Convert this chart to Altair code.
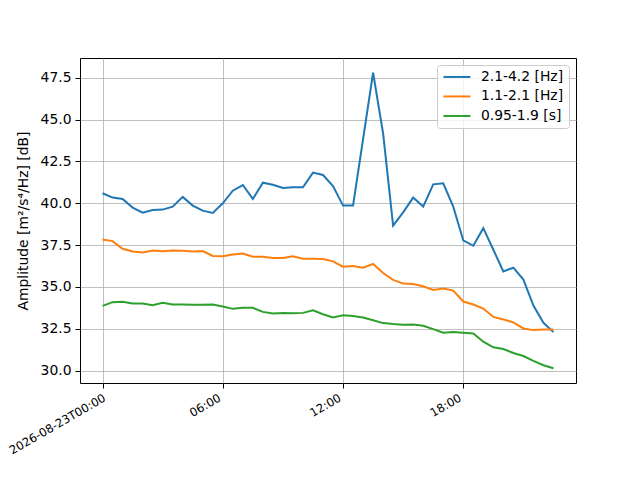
import altair as alt
import pandas as pd

times = pd.date_range("2026-08-23T00:00:00Z", periods=46, freq="30min")

band_hi = [40.6, 40.34, 40.26, 39.74, 39.44, 39.6, 39.62, 39.8, 40.38, 39.86,
           39.56, 39.42, 40.0, 40.75, 41.09, 40.26, 41.23, 41.11, 40.91, 40.95,
           40.95, 41.83, 41.69, 41.03, 39.86, 39.86, 43.83, 47.8, 44.17, 38.67,
           39.46, 40.34, 39.8, 41.13, 41.19, 39.8, 37.78, 37.46, 38.51, 37.22,
           35.93, 36.15, 35.44, 33.89, 32.86, 32.3]
band_mid = [37.84, 37.74, 37.28, 37.12, 37.06, 37.18, 37.14, 37.18, 37.16, 37.12,
            37.14, 36.85, 36.83, 36.94, 37.0, 36.81, 36.81, 36.73, 36.73, 36.83,
            36.69, 36.69, 36.67, 36.53, 36.21, 36.25, 36.15, 36.37, 35.83, 35.42,
            35.2, 35.18, 35.04, 34.82, 34.9, 34.78, 34.13, 33.95, 33.71, 33.21,
            33.06, 32.88, 32.52, 32.42, 32.46, 32.46]
band_lo = [33.87, 34.09, 34.11, 34.01, 34.01, 33.91, 34.05, 33.95, 33.95, 33.93,
           33.93, 33.95, 33.83, 33.69, 33.75, 33.75, 33.51, 33.41, 33.45, 33.43,
           33.45, 33.61, 33.37, 33.17, 33.31, 33.27, 33.17, 33.01, 32.84, 32.78,
           32.74, 32.76, 32.68, 32.48, 32.26, 32.3, 32.26, 32.22, 31.73, 31.39,
           31.29, 31.05, 30.87, 30.58, 30.32, 30.14]

series_names = ["2.1-4.2 [Hz]", "1.1-2.1 [Hz]", "0.95-1.9 [s]"]
series_colors = ["#1f77b4", "#ff7f0e", "#2ca02c"]
y_ticks = [30.0, 32.5, 35.0, 37.5, 40.0, 42.5, 45.0, 47.5]
x_tick_hours = [0, 6, 12, 18]

rows = []
for name, vals in zip(series_names, [band_hi, band_mid, band_lo]):
    for t, v in zip(times, vals):
        rows.append({"time": t.strftime("%Y-%m-%dT%H:%M:%SZ"), "value": v, "series": name})
df = pd.DataFrame(rows)

FONT = "DejaVu Sans"
FS = 13.9

x_enc = alt.X(
    "time:T",
    scale=alt.Scale(
        type="utc",
        domain=[alt.DateTime(year=2026, month=8, date=22, hours=22, minutes=52, seconds=30, utc=True),
                alt.DateTime(year=2026, month=8, date=23, hours=23, minutes=37, seconds=30, utc=True)],
        nice=False,
    ),
    axis=alt.Axis(
        title=None,
        values=[alt.DateTime(year=2026, month=8, date=23, hours=h, utc=True) for h in x_tick_hours],
        labelExpr="utchours(datum.value) == 0 ? utcFormat(datum.value, '%Y-%m-%dT%H:%M') : utcFormat(datum.value, '%H:%M')",
        labelAngle=330,
        labelAlign="right",
        labelBaseline="top",
        labelPadding=4,
        labelOffset={"condition": {"test": "utchours(datum.value) == 0", "value": -1}, "value": -6},
        labelFontSize=11.7,
    ),
)

y_enc = alt.Y(
    "value:Q",
    scale=alt.Scale(domain=[29.26, 48.68], nice=False, zero=False),
    axis=alt.Axis(
        title="Amplitude [m²/s⁴/Hz] [dB]",
        values=y_ticks,
        format=".1f",
        titlePadding=10,
        labelFontSize=FS,
    ),
)

chart = alt.Chart(df).mark_line(strokeWidth=2).encode(
    x=x_enc,
    y=y_enc,
    color=alt.Color(
        "series:N",
        scale=alt.Scale(domain=series_names, range=series_colors),
        legend=alt.Legend(
            title=None,
            orient="none",
            legendX=357,
            legendY=7,
            symbolType="M-2.2,0H8.6",
            symbolSize=25,
            symbolStrokeWidth=2,
            labelOffset=25,
            rowPadding=4.5,
            padding=5,
            fillColor="rgba(255,255,255,0.8)",
            strokeColor="#cccccc",
            cornerRadius=3,
        ),
    ),
    order=alt.Order("time:T"),
).properties(
    width=496,
    height=325,
    autosize=alt.AutoSizeParams(type="none"),
    padding={"left": 72, "top": 50, "right": 56, "bottom": 80},
    background="white",
).configure_view(
    stroke="black", strokeWidth=1
).configure_legend(
    labelFont=FONT,
    labelFontSize=FS,
    labelColor="black",
    labelLimit=300,
).configure_axis(
    labelFont=FONT,
    titleFont=FONT,
    titleFontWeight="normal",
    titleFontSize=FS,
    titleColor="black",
    labelColor="black",
    domain=False,
    tickColor="black",
    tickSize=5,
    labelPadding=4,
    gridColor="#b0b0b0",
    gridWidth=0.8,
)

chart.save("out.html", embed_options={"renderer": "svg", "actions": False})
